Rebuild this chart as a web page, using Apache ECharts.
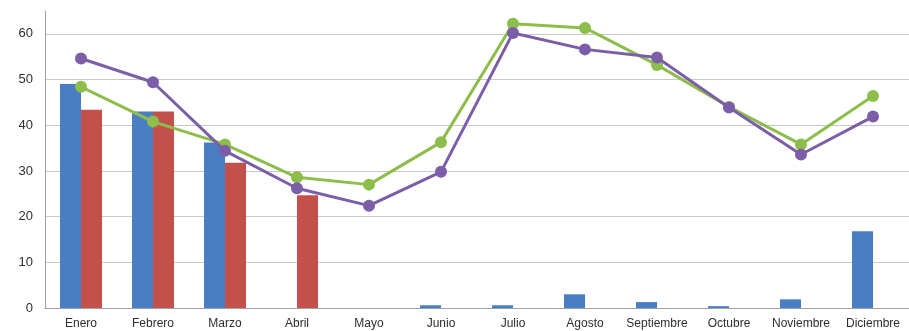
<!DOCTYPE html>
<html>
<head>
<meta charset="utf-8">
<script src="https://cdn.jsdelivr.net/npm/echarts@6/dist/echarts.min.js"></script>
<style>
  html, body { margin: 0; padding: 0; background: #ffffff; }
  #chart { width: 909px; height: 331px; }
</style>
</head>
<body>
<div id="chart"></div>
<script>
// Monthly categories
const months = ['Enero', 'Febrero', 'Marzo', 'Abril', 'Mayo', 'Junio', 'Julio',
  'Agosto', 'Septiembre', 'Octubre', 'Noviembre', 'Diciembre'];

// Bar series
const blueBars = [49, 43, 36.2, null, null, 0.6, 0.6, 3.0, 1.3, 0.4, 1.9, 16.8];
const redBars = [43.4, 43, 31.8, 24.7, null, null, null, null, null, null, null, null];

// Line series
const greenLine = [48.4, 40.8, 35.8, 28.6, 27.0, 36.3, 62.2, 61.3, 53.2, 44.0, 35.8, 46.4];
const purpleLine = [54.6, 49.4, 34.4, 26.2, 22.4, 29.8, 60.2, 56.6, 54.8, 43.9, 33.6, 41.9];

// Value-axis ticks
const yMin = 0;
const yMax = 65;
const yStep = 10;

const chart = echarts.init(document.getElementById('chart'));
const labelFont = { fontFamily: 'Liberation Sans, Arial, sans-serif', color: '#2e2e2e' };

chart.setOption({
  animation: false,
  backgroundColor: '#ffffff',
  grid: { left: 45, right: -5, top: 11, bottom: 23, containLabel: false },
  xAxis: {
    type: 'category',
    data: months,
    axisLine: { show: true, lineStyle: { color: '#a0a0a0', width: 1 } },
    axisTick: { show: false },
    axisLabel: Object.assign({ fontSize: 12, margin: 10, interval: 0 }, labelFont)
  },
  yAxis: {
    type: 'value',
    min: yMin,
    max: yMax,
    interval: yStep,
    axisLine: { show: true, lineStyle: { color: '#a0a0a0', width: 1 } },
    axisTick: { show: false },
    axisLabel: Object.assign({ fontSize: 13, margin: 12, showMaxLabel: false }, labelFont),
    splitLine: { show: true, showMaxLine: false, lineStyle: { color: '#c8c8c8', width: 1 } }
  },
  series: [
    {
      type: 'bar',
      data: blueBars,
      barWidth: 21,
      barGap: '0%',
      itemStyle: { color: '#4a7ec4' }
    },
    {
      type: 'bar',
      data: redBars,
      barWidth: 21,
      barGap: '0%',
      itemStyle: { color: '#c4504c' }
    },
    {
      type: 'line',
      data: greenLine,
      symbol: 'circle',
      symbolSize: 12,
      lineStyle: { color: '#8dbd4a', width: 3 },
      itemStyle: { color: '#8dbd4a' },
      z: 3
    },
    {
      type: 'line',
      data: purpleLine,
      symbol: 'circle',
      symbolSize: 12,
      lineStyle: { color: '#7b5ea7', width: 3 },
      itemStyle: { color: '#7b5ea7' },
      z: 4
    }
  ]
});
</script>
</body>
</html>
